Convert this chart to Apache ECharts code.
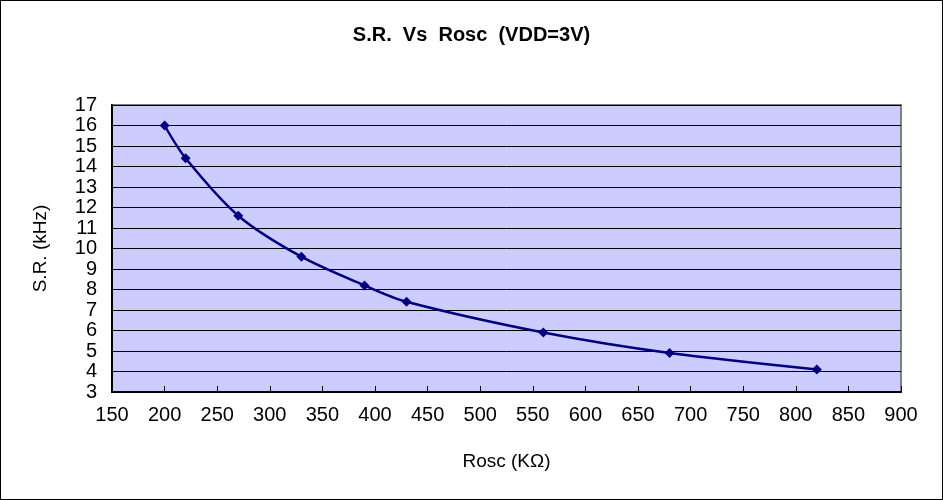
<!DOCTYPE html>
<html>
<head>
<meta charset="utf-8">
<script src="https://cdn.jsdelivr.net/npm/echarts@6/dist/echarts.min.js"></script>
<style>
  html, body { margin: 0; padding: 0; background: #fff; }
  #chart { width: 943px; height: 500px; box-sizing: border-box; border: 1px solid #000; }
</style>
</head>
<body>
<div id="chart"></div>
<script>
  // Rosc (KΩ) vs sample rate (kHz)
  var roscValues = [200, 220, 270, 330, 390, 430, 560, 680, 820];
  var srValues = [16.0, 14.4, 11.6, 9.6, 8.2, 7.4, 5.9, 4.9, 4.1];

  var chart = echarts.init(document.getElementById('chart'));
  var font = 'Arial, "Liberation Sans", sans-serif';

  var option = {
    animation: false,
    title: {
      text: 'S.R.  Vs  Rosc  (VDD=3V)',
      left: 'center',
      top: 19,
      textStyle: { fontFamily: font, fontSize: 20, fontWeight: 'bold', color: '#000' }
    },
    grid: {
      left: 111,
      right: 41,
      top: 104,
      bottom: 107,
      show: true,
      backgroundColor: '#CCCCFF',
      borderColor: '#808080',
      borderWidth: 2
    },
    xAxis: {
      type: 'value',
      min: 150,
      max: 900,
      interval: 50,
      name: 'Rosc (KΩ)',
      nameLocation: 'middle',
      nameGap: 60,
      nameTextStyle: { fontFamily: font, fontSize: 19, color: '#000' },
      axisLine: { show: true, lineStyle: { color: '#000', width: 2 } },
      axisTick: { show: true, inside: true, length: 6, lineStyle: { color: '#000' } },
      axisLabel: { fontFamily: font, fontSize: 20, color: '#000', margin: 13 },
      splitLine: { show: false }
    },
    yAxis: {
      type: 'value',
      min: 3,
      max: 17,
      interval: 1,
      name: 'S.R. (kHz)',
      nameLocation: 'middle',
      nameRotate: 90,
      nameGap: 62,
      nameTextStyle: { fontFamily: font, fontSize: 19, color: '#000' },
      axisLine: { show: true, lineStyle: { color: '#000', width: 2 } },
      axisTick: { show: true, inside: true, length: 6, lineStyle: { color: '#000' } },
      axisLabel: { fontFamily: font, fontSize: 20, color: '#000', margin: 15 },
      splitLine: { show: true, lineStyle: { color: '#000', width: 1 } }
    },
    series: [
      {
        type: 'line',
        data: roscValues.map(function (x, i) { return [x, srValues[i]]; }),
        smooth: 0.3,
        symbol: 'diamond',
        symbolSize: 10,
        lineStyle: { color: '#000080', width: 2.5 },
        itemStyle: { color: '#000080' }
      }
    ]
  };
  chart.setOption(option);
</script>
</body>
</html>
